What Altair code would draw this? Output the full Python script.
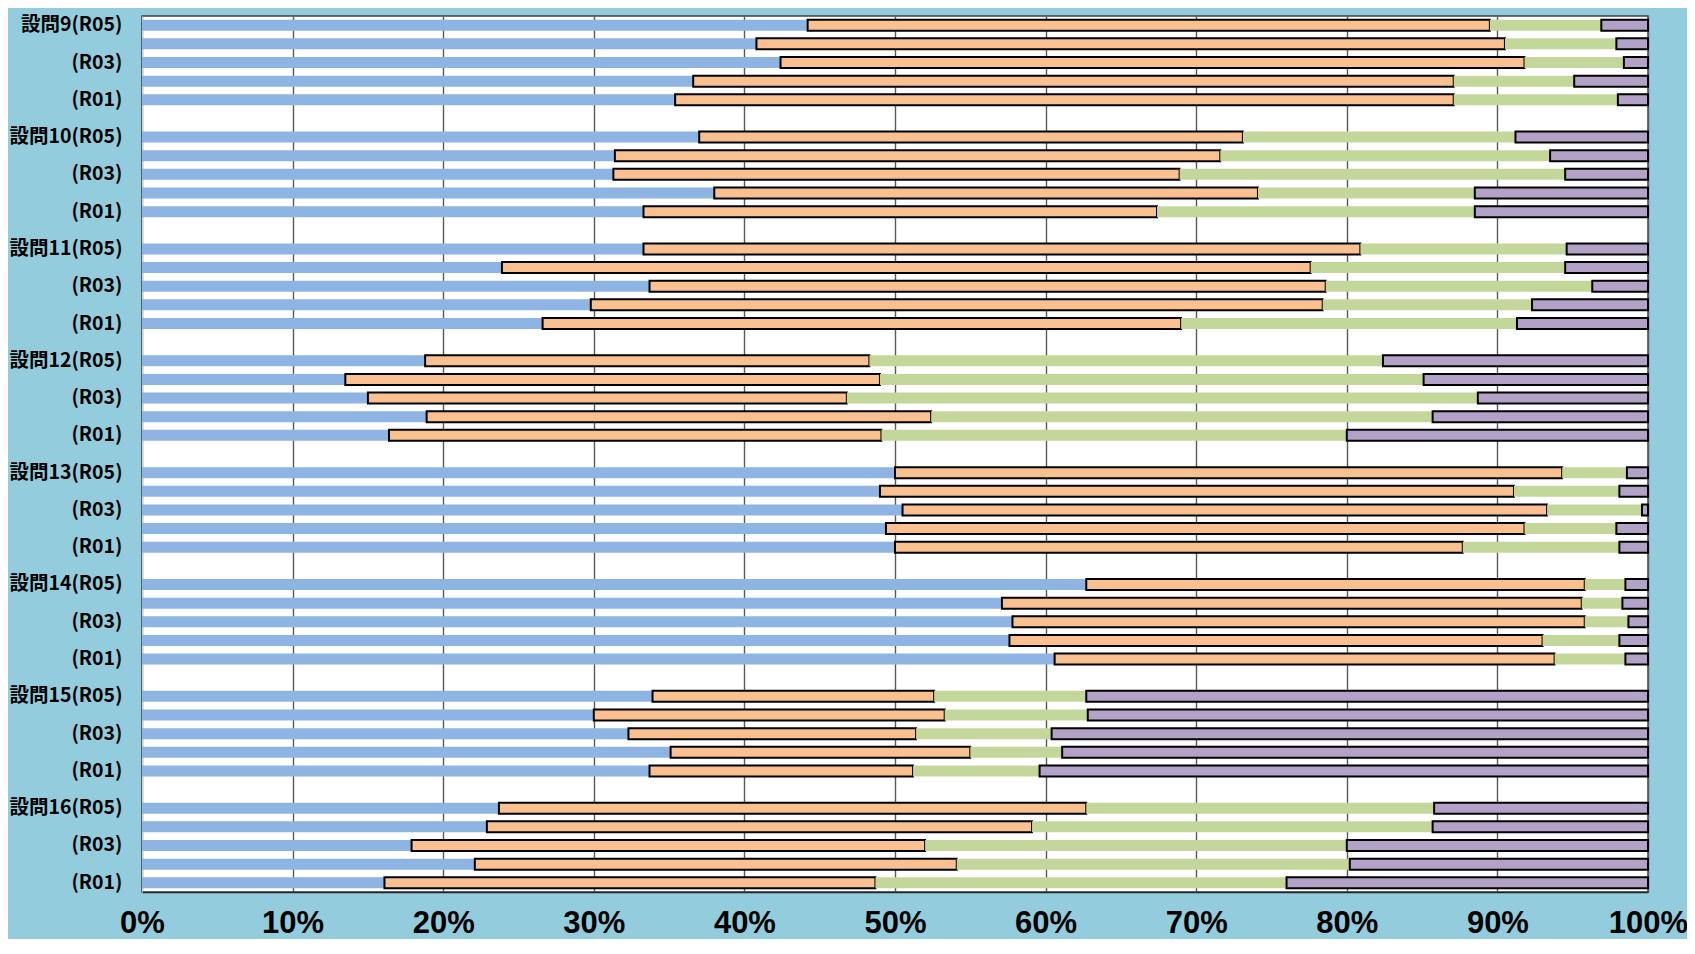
import altair as alt
import pandas as pd

groups = ["設問9", "設問10", "設問11", "設問12", "設問13", "設問14", "設問15", "設問16"]
years = ["R05", "R04", "R03", "R02", "R01"]
segments = ["A", "B", "C", "D"]
seg_colors = ["#8EB4E3", "#FAC090", "#C4D79B", "#B3A2C7"]

# shares (%) per bar, in order group x year (R05..R01)
seg_a = [44.2, 40.8, 42.4, 36.6, 35.4,
         37.0, 31.4, 31.3, 38.0, 33.3,
         33.3, 23.9, 33.7, 29.8, 26.6,
         18.8, 13.5, 15.0, 18.9, 16.4,
         50.0, 49.0, 50.5, 49.4, 50.0,
         62.7, 57.1, 57.8, 57.6, 60.6,
         33.9, 30.0, 32.3, 35.1, 33.7,
         23.7, 22.9, 17.9, 22.1, 16.1]
seg_b = [45.3, 49.7, 49.4, 50.5, 51.7,
         36.1, 40.2, 37.6, 36.1, 34.1,
         47.6, 53.7, 44.9, 48.6, 42.4,
         29.5, 35.5, 31.8, 33.5, 32.7,
         44.3, 42.1, 42.8, 42.4, 37.7,
         33.1, 38.5, 38.0, 35.4, 33.2,
         18.7, 23.3, 19.1, 19.9, 17.5,
         39.0, 36.2, 34.1, 32.0, 32.6]
seg_c = [7.4, 7.4, 6.6, 8.0, 10.9,
         18.1, 21.9, 25.6, 14.4, 21.1,
         13.7, 16.9, 17.7, 13.9, 22.3,
         34.1, 36.1, 41.9, 33.3, 30.9,
         4.3, 7.0, 6.3, 6.1, 10.4,
         2.7, 2.7, 2.9, 5.1, 4.7,
         10.1, 9.5, 9.0, 6.1, 8.4,
         23.1, 26.6, 28.0, 26.1, 27.3]
seg_d = [3.1, 2.1, 1.6, 4.9, 2.0,
         8.8, 6.5, 5.5, 11.5, 11.5,
         5.4, 5.5, 3.7, 7.7, 8.7,
         17.6, 14.9, 11.3, 14.3, 20.0,
         1.4, 1.9, 0.4, 2.1, 1.9,
         1.5, 1.7, 1.3, 1.9, 1.5,
         37.3, 37.2, 39.6, 38.9, 40.4,
         14.2, 14.3, 20.0, 19.8, 24.0]

def key_for(gi, g, y):
    if y == "R05":
        lab = f"{g}(R05)"
    elif y in ("R03", "R01"):
        lab = f"({y})"
    else:
        lab = ""
    return f"{gi:02d}|{y}|{lab}"

domain = []
rows = []
idx = 0
for gi, g in enumerate(groups):
    for y in years:
        k = key_for(gi, g, y)
        domain.append(k)
        vals = [seg_a[idx], seg_b[idx], seg_c[idx], seg_d[idx]]
        for si, s in enumerate(segments):
            rows.append({"row": k, "seg": s, "ord": si, "val": vals[si]})
        idx += 1
    if gi < len(groups) - 1:
        domain.append(f"{gi:02d}|gap|")

df = pd.DataFrame(rows)

font = "Noto Sans CJK JP"
xfont = "Liberation Sans"

chart = alt.Chart(df).mark_bar(stroke="black").encode(
    y=alt.Y("row:N", sort=domain,
            scale=alt.Scale(domain=domain, paddingInner=0.41, paddingOuter=0.2),
            axis=alt.Axis(title=None, ticks=False, labelExpr="split(datum.value, '|')[2]",
                          labelFont=font, labelFontSize=19.5, labelFontWeight="bold",
                          labelColor="black", labelPadding=20, domainColor="#D0D0D0",
                          domainWidth=1, labelLimit=300)),
    x=alt.X("val:Q", stack="zero",
            scale=alt.Scale(domain=[0, 100], nice=False),
            axis=alt.Axis(title=None, values=list(range(0, 101, 10)),
                          labelExpr="datum.value + '%'", ticks=False,
                          labelFont=xfont, labelFontSize=31, labelFontWeight="bold",
                          labelColor="black", labelPadding=40, labelBaseline="alphabetic",
                          grid=True, gridColor="#595959", gridWidth=1.4,
                          domainColor="#262626", domainWidth=1.5,
                          labelFlush=False)),
    color=alt.Color("seg:N", scale=alt.Scale(domain=segments, range=seg_colors), legend=None),
    order=alt.Order("ord:Q"),
    strokeWidth=alt.condition((alt.datum.seg == "B") | (alt.datum.seg == "D"),
                              alt.value(2), alt.value(0)),
).properties(
    width=1506, height=876,
    autosize="none",
    padding={"left": 134, "top": 8, "right": 39, "bottom": 47},
).configure(
    background="#93CDDD",
).configure_view(
    fill="white", stroke="#404040", strokeWidth=1.5,
)

chart.save("out.html", embed_options={"renderer": "svg", "actions": False})
